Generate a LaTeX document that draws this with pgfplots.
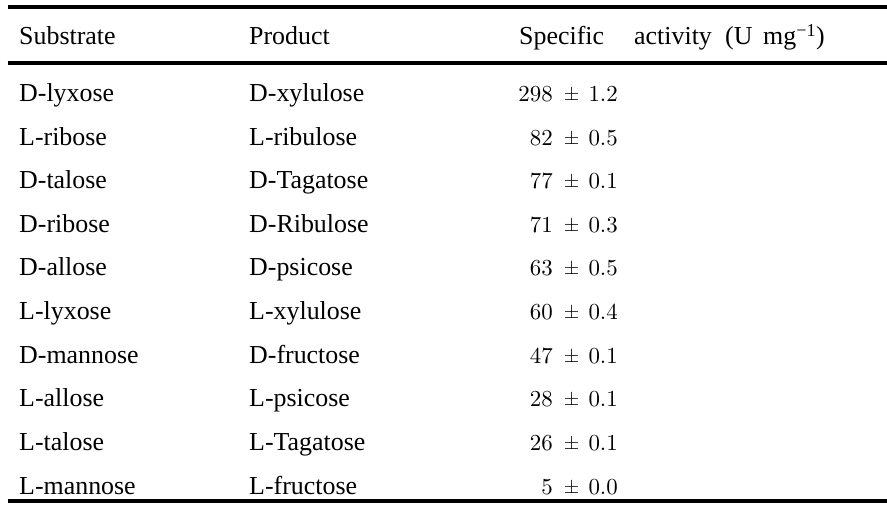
\documentclass[border=0pt]{standalone}
\usepackage{fontspec}
\usepackage{pgfplots}
\usepackage{pgfplotstable}
\pgfplotsset{compat=1.18}
\newfontfamily\txt{Liberation Serif}
\newfontfamily\num{lmroman10-regular}[Extension=.otf]
\newcommand{\tf}{\txt\fontsize{26}{30}\selectfont}
\newcommand{\nf}{\num\fontsize{23}{28}\selectfont}
\newcommand{\pmf}{\num\fontsize{20}{24}\selectfont}

% header cells: x position, baseline, text
\pgfplotstableread[col sep=comma]{
x,y,label
19,45,Substrate
249,45,Product
519,45,Specific
634,45,activity
725,45,(U
763,45,mg\textsuperscript{−1})
}\header

% table body: baseline, substrate, product, activity, sd
\pgfplotstableread[col sep=comma]{
y,sub,prod,val,err
101.5,D-lyxose,D-xylulose,298,1.2
145.1,L-ribose,L-ribulose,82,0.5
188.7,D-talose,D-Tagatose,77,0.1
232.3,D-ribose,D-Ribulose,71,0.3
275.9,D-allose,D-psicose,63,0.5
319.5,L-lyxose,L-xylulose,60,0.4
363.1,D-mannose,D-fructose,47,0.1
406.7,L-allose,L-psicose,28,0.1
450.3,L-talose,L-Tagatose,26,0.1
494.0,L-mannose,L-fructose,5,0.0
}\rows

\begin{document}
\begin{tikzpicture}
\begin{axis}[
    scale only axis,
    width=887bp, height=513bp,
    xmin=0, xmax=887, ymin=0, ymax=513,
    y dir=reverse,
    axis line style={draw=none},
    ticks=none,
    point meta=explicit symbolic,
]
% rules
\addplot[black, line width=4bp] coordinates {(7.5,7) (887,7)};
\addplot[black, line width=4bp] coordinates {(7.5,63) (887,63)};
\addplot[black, line width=4bp] coordinates {(7.5,500.7) (887,500.7)};

% header
\addplot[draw=none, mark=none, nodes near coords,
    every node near coord/.append style={anchor=base west, inner sep=0pt, font=\tf, text=black}]
    table[x=x, y=y, meta=label] {\header};

% substrate and product columns
\addplot[draw=none, mark=none, nodes near coords,
    every node near coord/.append style={anchor=base west, inner sep=0pt, font=\tf, text=black}]
    table[x expr=19, y=y, meta=sub] {\rows};
\addplot[draw=none, mark=none, nodes near coords,
    every node near coord/.append style={anchor=base west, inner sep=0pt, font=\tf, text=black}]
    table[x expr=249, y=y, meta=prod] {\rows};

% activity +- sd
\addplot[draw=none, mark=none, nodes near coords,
    every node near coord/.append style={anchor=base east, inner sep=0pt, font=\nf, text=black}]
    table[x expr=553, y=y, meta=val] {\rows};
\addplot[draw=none, mark=none, nodes near coords={±},
    every node near coord/.append style={anchor=base, inner sep=0pt, yshift=1bp, font=\pmf, text=black}]
    table[x expr=571.5, y=y, meta=val] {\rows};
\addplot[draw=none, mark=none, nodes near coords,
    every node near coord/.append style={anchor=base east, inner sep=0pt, font=\nf, text=black}]
    table[x expr=618, y=y, meta=err] {\rows};
\end{axis}
\end{tikzpicture}
\end{document}
